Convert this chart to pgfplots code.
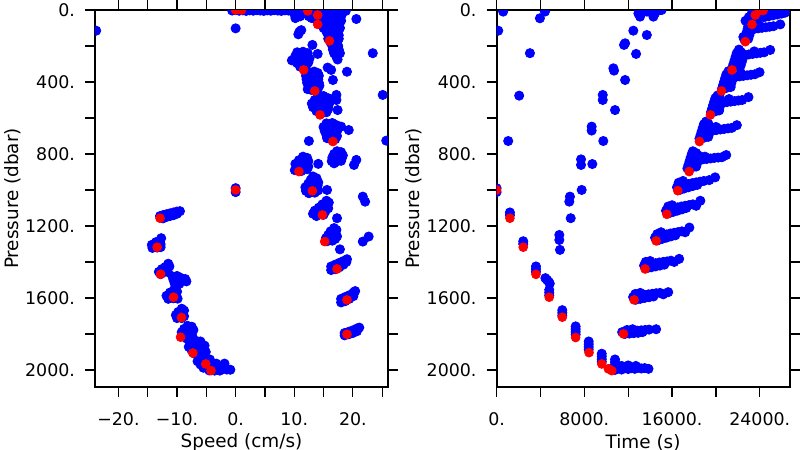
\documentclass[border=0pt]{standalone}
\usepackage{fontspec}
\setmainfont{DejaVu Sans}
\usepackage{pgfplots}
\pgfplotsset{compat=1.18}
\definecolor{dotblue}{RGB}{0,0,255}
\definecolor{dotred}{RGB}{255,0,0}

\pgfplotsset{
  castpanel/.style={
    scale only axis,
    width=146.5pt,
    height=188.5pt,
    anchor=south west,
    y dir=reverse,
    ymin=0, ymax=2095,
    ytick={0,200,...,2000},
    yticklabels={0.,,400.,,800.,,1200.,,1600.,,2000.},
    scaled x ticks=false,
    tick align=outside,
    major tick length=5pt,
    axis line style={line width=1pt},
    tick style={line width=0.6pt, black},
    xticklabel pos=lower,
    yticklabel pos=left,
    tick label style={font=\fontsize{8.7}{10}\selectfont},
    xticklabel style={yshift=-4.5pt},
    yticklabel style={xshift=-1.5pt},
    label style={font=\fontsize{9.2}{11}\selectfont},
    xlabel style={at={(axis description cs:0.5,-0.147)}, anchor=center},
    ylabel style={at={(axis description cs:-0.282,0.5)}, anchor=center},
    clip marker paths=true,
  },
  bluedots/.style={only marks, mark=*, mark size=2.3pt, color=dotblue},
  reddots/.style={only marks, mark=*, mark size=2.2pt, color=dotred},
}

\begin{document}
\begin{tikzpicture}
\useasboundingbox (0,0) rectangle (400pt,225pt);

% ---------------- speed vs pressure ----------------
\begin{axis}[castpanel,
    at={(47.5pt,31.5pt)},
    xmin=-24, xmax=26,
    xtick={-20,-15,...,25},
    xticklabels={−20.,,−10.,,0.,,10.,,20.,},
    xlabel={Speed (cm/s)},
    ylabel={Pressure (dbar)},
]
\addplot[bluedots] coordinates {
  % surface line and top blob
  (-0.6,3) (0,1) (0.6,4) (1.2,2) (1.8,5) (2.4,2) (3,4) (3.6,1) (4.2,3) (4.8,5)
  (5.4,2) (6,4) (6.6,1) (7.2,3) (7.8,5) (8.4,2) (9,3) (9.6,6)
  (10,5) (11,5) (12,5) (13,5) (14,5) (15,5) (16,5) (17,5) (18,5) (18.8,5)
  (10,20) (11,20) (12,20) (13,20) (14,20) (15,20) (16,20) (17,20) (18,20)
  (11,35) (12.5,35) (14,35) (15,35) (16,35) (17,35) (18,35)
  (10.2,45) (13,45) (14.5,45) (16,45) (17.2,45)
  (14,60) (15,60) (16,60) (17,60) (18,60)
  (14.5,80) (15.5,80) (16.5,80) (17.5,80)
  (15,100) (16,100) (17,100) (17.8,100)
  (15.5,120) (16.5,120) (17.5,120)
  (15.8,140) (16.8,140) (17.6,140)
  (15.8,160) (16.8,160) (17.6,160)
  (16.2,180) (17.2,180) (16.5,200) (17.5,200) (16.6,220) (17.6,220)
  (16.8,240) (17.8,240) (17.2,260) (17.4,275)
  (10.9,120) (10.7,135) (11.2,112)
  % cluster near 330 dbar
  (10.5,235) (11.5,232) (12.3,240) (10.2,255) (11.2,255) (12.2,258) (10.1,275)
  (11,278) (12,275) (12.6,270) (10.5,295) (11.5,298) (12.4,292) (11,315) (12,312) (9.6,280)
  % cluster near 450 dbar
  (12.4,345) (13.4,342) (14,350) (12,365) (13,368) (14.2,365) (12.1,385) (13.1,388)
  (14.1,385) (12.2,405) (13.2,408) (14.2,405) (12.5,425) (13.5,428) (14.3,420)
  (13,445) (14,440) (12.3,440)
  % cluster near 580 dbar
  (14,480) (15,478) (15.8,490) (13.5,500) (14.5,500) (15.5,502) (16,510) (13,520)
  (14,522) (15,520) (15.9,525) (13.2,540) (14.2,545) (15.2,542) (15.8,550)
  (13.8,562) (14.8,565) (15.5,568) (14.5,578)
  % cluster near 730 dbar
  (15.5,630) (16.5,628) (17.2,640) (15,650) (16,652) (17,650) (17.4,665) (15.2,672)
  (16.2,675) (17.2,680) (15.5,695) (16.5,698) (17.3,700) (16,715) (17,718) (15.6,712)
  % cluster near 810 dbar
  (17.3,785) (18,790) (16.8,800) (17.6,805) (18.3,808) (16.5,820) (17.3,822)
  (18.1,825) (16.4,840) (17.2,842) (18,838) (16.8,852)
  % cluster near 900 dbar
  (11.5,815) (12.2,822) (10.8,835) (11.7,838) (12.4,840) (10.2,855) (11.1,858)
  (12,860) (12.4,870) (10.5,875) (11.4,878) (12.2,885) (10.1,890) (11.2,895)
  % cluster near 1000 dbar
  (13.2,925) (13.8,935) (12.8,945) (13.6,950) (14.1,958) (12.4,965) (13.3,968)
  (14,975) (11.9,985) (12.8,988) (13.7,992) (14.1,1002) (12,1005) (12.5,1018) (13.5,1015)
  % cluster near 1140 dbar
  (15.5,1060) (15.9,1070) (14.8,1080) (15.6,1085) (14.2,1098) (15,1100) (15.8,1102)
  (13.5,1115) (14.4,1118) (15.3,1120) (13.2,1132) (14.1,1135) (15,1138) (13.8,1145)
  % cluster near 1290 dbar
  (16.8,1212) (17.2,1222) (16.2,1230) (17,1238) (15.8,1250) (16.6,1252) (17.3,1258)
  (15.4,1268) (16.2,1270) (17,1272) (15.6,1285) (16.5,1282)
  % deep up-cast clusters
  (16.3,1425) (16.3,1445) (17,1415) (17,1440) (17.7,1405) (17.7,1430) (18.4,1395)
  (18.4,1415) (19,1385) (18.9,1400)
  (18,1605) (18,1625) (18.7,1595) (18.7,1618) (19.4,1585) (19.4,1605) (20.1,1570)
  (20.1,1590) (20.4,1562)
  (18.6,1795) (18.6,1808) (19.3,1788) (19.3,1802) (20,1780) (20,1795) (20.7,1770)
  (20.7,1785) (21.1,1765)
  % scattered points
  (20.6,50) (23.4,240) (25.1,472) (13.1,194) (14,244) (15.7,320) (16.3,333) (19,343)
  (16.6,389) (17.2,472) (17.2,500) (17.4,556) (19.3,667) (18,648) (25.7,726)
  (12.5,728) (14.1,855) (20.6,833) (20.2,861) (21.7,1037) (22.1,1065) (15.6,1000)
  (17.3,1157) (17.8,1330) (21.7,1287) (22.7,1259)
  (-23.8,115) (0,102) (0,990) (0,1012)
  % down-cast clusters
  (-12.9,1145) (-12.4,1140) (-12.4,1158) (-11.8,1135) (-11.8,1150) (-11.2,1130)
  (-11.2,1145) (-10.6,1125) (-10.6,1140) (-10,1120) (-10,1132) (-9.5,1118)
  (-12.7,1268) (-12.9,1285) (-13.6,1290) (-14.3,1305) (-13.5,1305) (-12.8,1302)
  (-14.2,1322) (-13.4,1320) (-12.8,1318)
  (-11.5,1410) (-11.3,1425) (-12,1428) (-12.6,1440) (-11.8,1442) (-13.1,1455)
  (-12.3,1458) (-11.6,1455) (-12.8,1468)
  (-10.8,1480) (-10,1478) (-9.4,1488) (-10.6,1500) (-9.8,1502) (-9,1505) (-8.4,1508)
  (-10.4,1520) (-9.6,1522) (-8.6,1495)
  (-10.5,1555) (-10,1565) (-11.2,1570) (-10.4,1578) (-11.8,1588) (-11,1590)
  (-10.2,1592) (-11.5,1605) (-10.6,1602) (-9.9,1604)
  (-9.2,1660) (-8.8,1670) (-9.8,1678) (-9,1685) (-10.2,1695) (-9.4,1698) (-8.8,1702)
  (-10,1712) (-9.2,1712)
  (-8.2,1755) (-7.5,1760) (-8.8,1772) (-8,1775) (-7.2,1778) (-9.2,1790) (-8.4,1792)
  (-7.6,1795) (-8.8,1808) (-8,1810) (-7.4,1812) (-8.4,1825)
  (-6.8,1838) (-6,1842) (-7.6,1855) (-6.8,1858) (-6,1860) (-5.3,1865) (-8,1872)
  (-7.2,1875) (-6.4,1878) (-5.6,1880) (-7.5,1892) (-6.7,1895) (-5.9,1897) (-5.1,1900)
  (-7,1910) (-6.2,1912)
  (-6,1935) (-5.2,1938) (-4.4,1942) (-6.5,1952) (-5.7,1955) (-4.9,1958) (-4.1,1960)
  (-3.3,1965) (-6,1970) (-5.2,1972) (-4.4,1975) (-3.6,1978) (-2.8,1982) (-5.5,1988)
  (-4.7,1990) (-3.9,1992) (-3.1,1995) (-2.3,1996) (-1.5,1998) (-0.9,1999) (-4.5,2003)
  (-3.6,2004) (-2.7,2004) (-1.9,1965) (-2.4,1985)
};
\addplot[reddots] coordinates {
  (0,0) (1,0) (12.3,5) (14,28) (14,80) (16,172) (11.6,333) (13.5,450) (14.4,583)
  (16.6,731) (10.8,898) (13.1,1005) (14.8,1139) (15.2,1287) (17.3,1439) (19,1611)
  (19,1802) (0,1000) (-12.9,1157) (-13.4,1318) (-12.8,1468) (-10.6,1596)
  (-9.25,1709) (-9.4,1818) (-7.3,1906) (-5.1,1967) (-4.2,2004)
};
\end{axis}

% ---------------- time vs pressure ----------------
\begin{axis}[castpanel,
    at={(248.3pt,31.5pt)},
    xmin=0, xmax=26720,
    xtick={0,4000,...,24000},
    xticklabels={0.,,8000.,,16000.,,24000.},
    xlabel={Time (s)},
    ylabel={Pressure (dbar)},
]
\addplot[bluedots] coordinates {
  % early sparse points
  (600,9) (150,115) (3950,46) (4410,9) (3040,240) (2060,476) (1060,728)
  (0,990) (0,1012) (1214,1125) (1214,1140)
  % down-cast steps
  (2430,1285) (2430,1300) (3590,1425) (3590,1440) (3590,1455)
  (4450,1490) (4600,1500) (4750,1510) (4850,1520)
  (4800,1555) (4800,1570) (4800,1585)
  (5990,1668) (5990,1683) (5990,1698)
  (7210,1758) (7210,1773) (7210,1788) (7210,1803)
  (8400,1842) (8400,1857) (8400,1872) (8400,1887)
  (9590,1910) (9590,1925) (9590,1940) (9590,1955)
  (10800,1942) (10800,1957) (10800,1972)
  (10400,1995) (10800,2000) (11100,1990) (11400,1998) (11700,1988) (12000,1995)
  (12000,1975) (12300,1990) (12600,1994) (12900,1988) (13200,1992) (13500,1990)
  (13850,1994) (11400,1978) (12700,1978)
  % middle sparse line
  (12930,19) (13080,37) (13700,9) (13700,0) (14300,37) (14450,18) (14900,0) (15050,0)
  (12470,115) (13700,139) (11620,194) (11720,185) (12720,244) (10650,324) (10710,337)
  (11720,389) (9680,472) (9680,500) (10800,556) (8670,648) (8670,670) (9730,728)
  (7700,830) (7700,861) (8730,856) (7760,1000) (6690,1037) (6630,1065) (6760,1157)
  (5720,1250) (5720,1278) (5780,1333)
  % up-cast clusters
  (11450,1790) (11800,1788) (12150,1786) (12500,1784) (12850,1782) (13200,1780)
  (13550,1778) (13900,1776) (14550,1774) (11700,1800) (12100,1798) (12500,1796)
  (12900,1794) (13300,1790) (11900,1778) (12400,1774)
  (12450,1595) (12800,1590) (13150,1586) (13500,1583) (13850,1580) (14200,1577)
  (14550,1574) (14900,1572) (15650,1568) (12700,1610) (13100,1605) (13500,1600)
  (13900,1596) (14300,1592) (12650,1578) (13100,1572) (15200,1580)
  (13450,1420) (13800,1415) (14150,1411) (14500,1407) (14850,1403) (15200,1400)
  (15550,1397) (15900,1393) (16650,1383) (13700,1435) (14100,1430) (14500,1425)
  (14900,1420) (15300,1415) (13600,1400) (14000,1395) (16200,1400)
  (14450,1265) (14800,1258) (15150,1252) (15500,1247) (15850,1242) (16200,1238)
  (16550,1234) (16900,1230) (17580,1209) (14700,1280) (15100,1272) (15500,1265)
  (15900,1258) (16300,1252) (14650,1245) (15000,1235) (17200,1235)
  (15450,1115) (15800,1108) (16150,1102) (16500,1097) (16850,1092) (17200,1088)
  (17550,1084) (17900,1080) (18580,1060) (15700,1130) (16100,1122) (16500,1115)
  (16900,1108) (17300,1100) (15650,1092) (16000,1085) (18200,1088)
  (16450,985) (16800,978) (17150,972) (17500,967) (17850,962) (18200,958)
  (18550,954) (18900,950) (19930,930) (16700,1000) (17100,992) (17500,985)
  (17900,978) (18300,972) (16600,960) (17000,950) (19400,945)
  (17400,880) (17800,875) (18200,870) (17500,860) (17900,855) (18300,850)
  (17600,840) (18000,835) (18400,830) (17700,820) (18100,815) (18450,810)
  (17800,800) (18200,795) (17900,785)
  (18800,830) (19150,828) (19500,825) (19850,822) (20200,820) (20550,818) (20940,806) (19000,815)
  (18500,715) (18900,710) (19300,705) (18600,695) (19000,690) (19400,685)
  (18700,675) (19100,670) (19450,665) (18800,655) (19200,650) (18900,635)
  (19300,630) (19100,620)
  (19700,670) (20050,667) (20400,664) (20750,661) (21100,658) (21450,655) (21910,640) (20000,650)
  (19550,568) (19950,563) (20300,558) (19650,548) (20050,543) (20350,538)
  (19750,528) (20150,523) (20450,518) (19850,508) (20250,503) (19950,490)
  (20350,485) (20150,475)
  (20650,515) (21000,512) (21350,509) (21700,506) (22050,503) (22400,500) (22970,484) (21200,495)
  (20550,438) (20950,433) (21350,428) (20650,418) (21050,413) (21400,408)
  (20750,398) (21150,393) (21500,388) (20850,378) (21250,373) (21550,368)
  (20950,358) (21350,353) (21150,340)
  (21800,372) (22150,369) (22500,366) (22850,363) (23200,360) (23550,357) (23980,346) (22300,352)
  (21500,320) (21900,315) (22250,310) (21600,300) (22000,295) (22350,290)
  (21700,280) (22100,275) (22450,270) (21800,260) (22200,255) (21900,240)
  (22300,235) (22100,220)
  (22650,250) (23000,247) (23350,244) (23700,241) (24050,238) (24400,235) (24950,222) (23500,230)
  (22600,165) (22950,160) (22700,145) (23050,140) (22800,125) (23150,120)
  (22900,105) (23250,100) (22950,90) (23300,85) (22500,150)
  (23500,105) (23850,102) (24200,99) (24550,96) (24900,93) (25250,90) (25870,80) (24000,88)
  (22700,60) (23100,55) (23500,50) (23900,45) (23000,40) (23400,35) (23800,30)
  (24200,25) (24600,20) (25000,15) (25400,12) (25800,8) (26250,5) (23300,15)
  (23700,10) (24100,5) (24500,8) (24900,3) (25300,2) (25700,0) (26100,0)
  (24400,40) (24800,35) (25200,30) (25600,25) (26000,20) (26300,15)
};
\addplot[reddots] coordinates {
  (0,1000) (1214,1157) (2430,1318) (3590,1469) (4800,1596) (5990,1707) (7210,1820)
  (8430,1904) (9590,1967) (10190,1994) (10500,2004) (11570,1800) (12540,1611)
  (13540,1439) (14550,1283) (15520,1135) (16520,1004) (17560,898) (18500,731)
  (19500,583) (20510,450) (21470,333) (22680,176) (23290,80) (23590,28)
  (24040,0) (24300,3)
};
\end{axis}
\end{tikzpicture}
\end{document}
